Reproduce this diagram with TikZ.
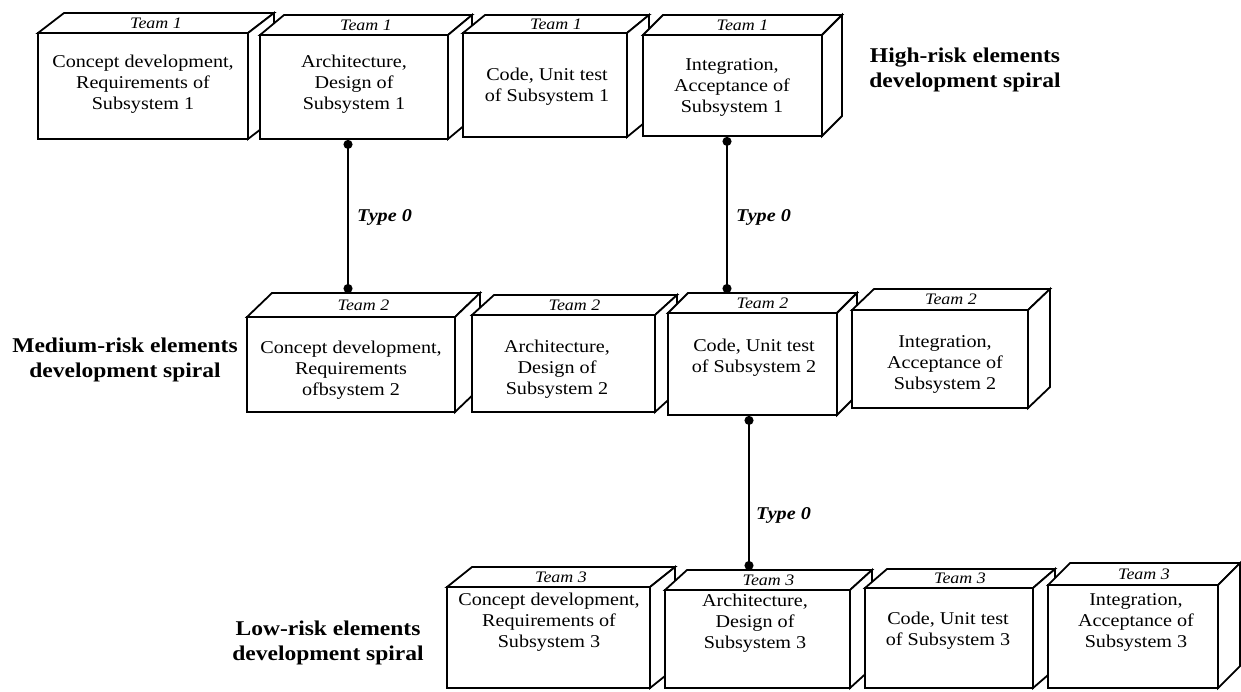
\documentclass[tikz,border=0pt]{standalone}
\usepackage{fontspec}
\setmainfont{Liberation Serif}[FakeStretch=1.12]
\usetikzlibrary{fit,arrows.meta,calc}
\tikzset{
  face/.style={draw, fill=white, line width=1.8pt, line join=miter},
  front/.style={draw, fill=white, line width=1.8pt, inner sep=0pt},
  team/.style={font=\fontsize{16}{18}\selectfont\itshape, inner sep=0pt},
  body/.style={font=\fontsize{18}{21}\selectfont, align=center, inner sep=0pt},
  risk/.style={font=\fontsize{21}{25}\selectfont\bfseries, align=center, inner sep=0pt},
  conn/.style={line width=1.5pt, {Circle[length=9pt]}-{Circle[length=9pt]}},
  typelbl/.style={font=\fontsize{18}{20}\selectfont\bfseries\itshape, anchor=west, inner sep=0pt},
}
\newcommand{\cubebox}[8]{%
  \draw[face] (#2,#3) -- ({#2+#6},{#3-#7}) -- ({#4+#6},{#3-#7}) -- (#4,#3) -- cycle;
  \draw[face] (#4,#3) -- ({#4+#6},{#3-#7}) -- ({#4+#6},{#5-#7}) -- (#4,#5) -- cycle;
  \coordinate (#1-back) at ({#2+#6},{#3-#7});
  \node[front, fit={(#2,#3) (#4,#5)}] (#1) {};
  \node[team] (#1-team) at ({(#2+#4+#6)/2},{#3-#7/2}) {#8};
}
\begin{document}
\begin{tikzpicture}[x=1pt,y=-1pt]
\useasboundingbox (0,0) rectangle (1241,691);
% top row
\cubebox{T1}{38}{33}{248}{139}{26}{20}{Team 1}
\cubebox{T2}{260}{35}{448}{139}{24}{20}{Team 1}
\cubebox{T3}{463}{33}{627}{137}{22}{18}{Team 1}
\cubebox{T4}{643}{35}{822}{136}{20}{20}{Team 1}
\node[body] (T1-txt) at (143,84) {Concept development,\\Requirements of\\Subsystem 1};
\node[body] (T2-txt) at (354,84) {Architecture,\\Design of\\Subsystem 1};
\node[body] (T3-txt) at (547,87) {Code, Unit test\\of Subsystem 1};
\node[body] (T4-txt) at (732,87) {Integration,\\Acceptance of\\Subsystem 1};
% middle row
\cubebox{M1}{247}{317}{455}{412}{25}{24}{Team 2}
\cubebox{M2}{472}{315}{655}{412}{22}{20}{Team 2}
\cubebox{M3}{668}{313}{837}{415}{20}{20}{Team 2}
\cubebox{M4}{852}{310}{1028}{408}{22}{21}{Team 2}
\node[body] (M1-txt) at (351,370) {Concept development,\\Requirements\\ofbsystem 2};
\node[body] (M2-txt) at (557,369) {Architecture,\\Design of\\Subsystem 2};
\node[body] (M3-txt) at (754,358) {Code, Unit test\\of Subsystem 2};
\node[body] (M4-txt) at (945,364) {Integration,\\Acceptance of\\Subsystem 2};
% bottom row
\cubebox{B1}{447}{587}{650}{688}{25}{20}{Team 3}
\cubebox{B2}{665}{590}{850}{688}{22}{20}{Team 3}
\cubebox{B3}{865}{588}{1033}{688}{22}{19}{Team 3}
\cubebox{B4}{1048}{585}{1218}{688}{22}{22}{Team 3}
\node[body] (B1-txt) at (549,622) {Concept development,\\Requirements of\\Subsystem 3};
\node[body] (B2-txt) at (755,623) {Architecture,\\Design of\\Subsystem 3};
\node[body] (B3-txt) at (948,631) {Code, Unit test\\of Subsystem 3};
\node[body] (B4-txt) at (1136,622) {Integration,\\Acceptance of\\Subsystem 3};
% labels
\node[risk] (hi) at (965,70) {High-risk elements\\development spiral};
\node[risk] (med) at (125,360) {Medium-risk elements\\development spiral};
\node[risk] (low) at (328,643) {Low-risk elements\\development spiral};
% connectors
\coordinate (c1a) at ([xshift=-6pt]T2.south);
\coordinate (c1b) at (c1a |- M1-back);
\coordinate (c2a) at ([xshift=-5.5pt]T4.south);
\coordinate (c2b) at (c2a |- M3-back);
\coordinate (c3a) at ([xshift=-3.5pt]M3.south);
\coordinate (c3b) at (c3a |- B2-back);
\draw[conn] (c1a) -- (c1b);
\draw[conn] (c2a) -- (c2b);
\draw[conn] (c3a) -- (c3b);
\node[typelbl] (ty1) at (357,217) {Type 0};
\node[typelbl] (ty2) at (736,217) {Type 0};
\node[typelbl] (ty3) at (756,515) {Type 0};
\end{tikzpicture}
\end{document}
